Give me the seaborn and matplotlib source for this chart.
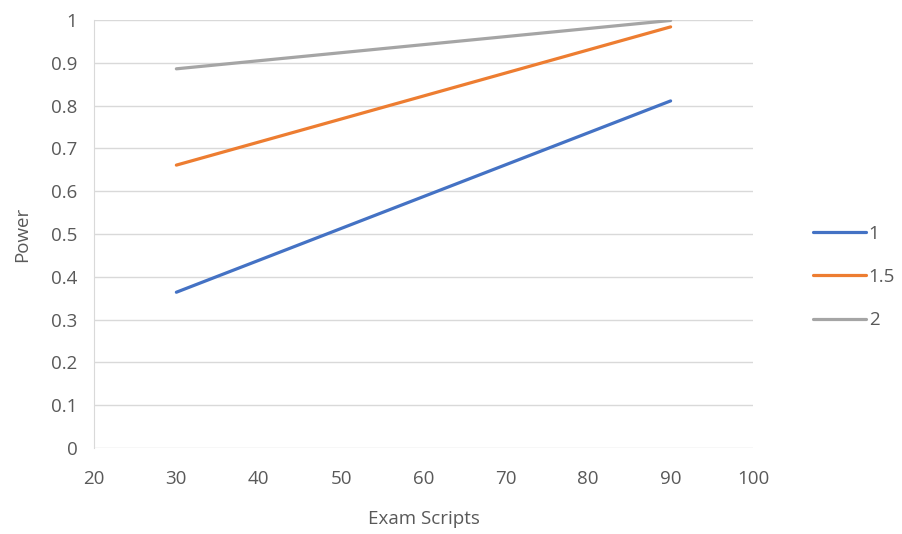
import pandas as pd
import matplotlib.pyplot as plt
import seaborn as sns

# データ
scripts = [30, 90]
effect_sizes = ['1', '1.5', '2']
power_1 = [0.364, 0.811]
power_15 = [0.661, 0.984]
power_2 = [0.886, 0.999]

rows = []
for name, vals in zip(effect_sizes, [power_1, power_15, power_2]):
    for x, y in zip(scripts, vals):
        rows.append({'Exam Scripts': x, 'Power': y, 'effect': name})
df = pd.DataFrame(rows)

sns.set_style('white')
plt.rcParams['font.family'] = ['Open Sans', 'DejaVu Sans']
txt = '#595959'

fig = plt.figure(figsize=(9.02, 5.34), dpi=100)
ax = fig.add_axes([0.1042, 0.161, 0.7306, 0.8015])

palette = {'1': '#4472C4', '1.5': '#ED7D31', '2': '#A5A5A5'}
sns.lineplot(data=df, x='Exam Scripts', y='Power', hue='effect', palette=palette,
             linewidth=2.3, ax=ax, zorder=3)

ax.set_xlim(20, 100)
ax.set_ylim(0, 1)
ax.set_xticks(range(20, 101, 10))
ax.set_yticks([i / 10 for i in range(11)])
ax.set_yticklabels(['0', '0.1', '0.2', '0.3', '0.4', '0.5', '0.6', '0.7', '0.8', '0.9', '1'])
ax.grid(axis='y', color='#d9d9d9', linewidth=1)
for s in ['top', 'right', 'bottom']:
    ax.spines[s].set_visible(False)
ax.spines['left'].set_color('#d9d9d9')
ax.tick_params(axis='both', length=0, labelsize=13.5, colors=txt)
ax.tick_params(axis='x', pad=16)
ax.tick_params(axis='y', pad=12)

ax.set_xlabel('Exam Scripts', fontsize=13.5, color=txt, labelpad=16)
ax.set_ylabel('Power', fontsize=13.5, color=txt, labelpad=14)

leg = ax.legend(loc='center left', bbox_to_anchor=(1.066, 0.40), frameon=False,
                fontsize=13.5, labelcolor=txt, handlelength=2.8, handletextpad=0.15,
                labelspacing=1.35, title=None)

fig.savefig('out.png', dpi=100)
